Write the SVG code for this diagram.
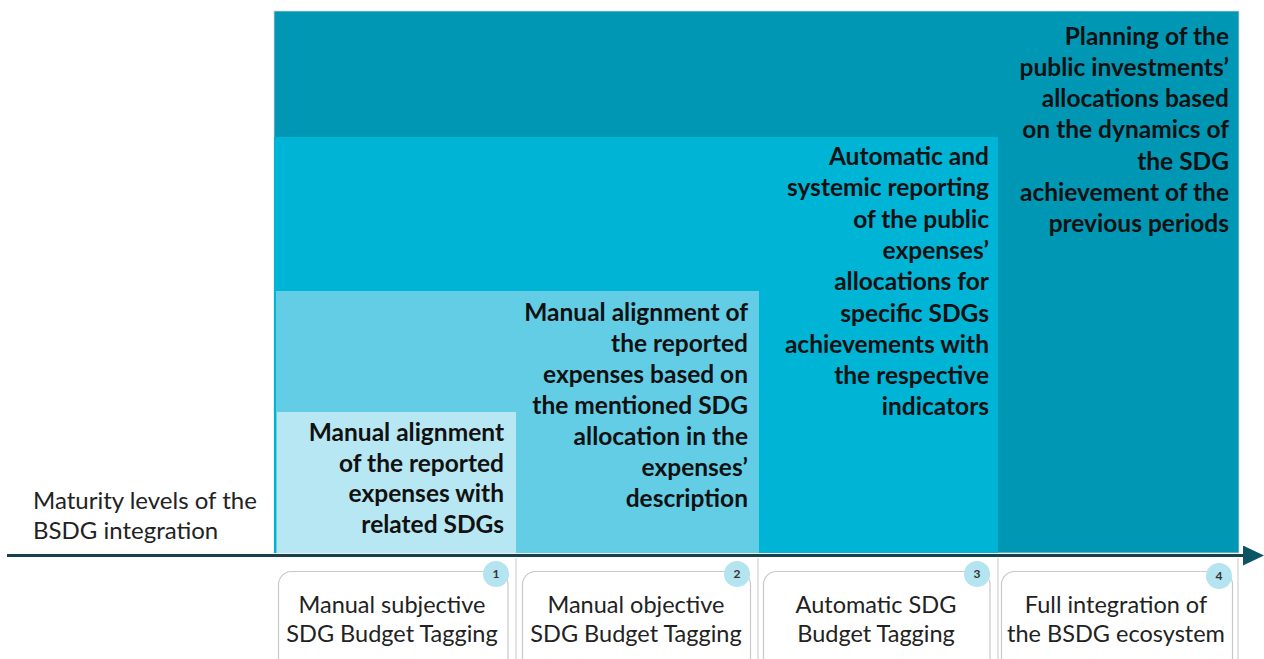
<svg xmlns="http://www.w3.org/2000/svg" width="1264" height="659" viewBox="0 0 1264 659">
<defs>
<style>
.lvl{font-family:Lato,"Open Sans","Liberation Sans",sans-serif;font-weight:700;font-size:24.5px;fill:#111;text-anchor:end}
.lab{font-family:Lato,"Open Sans","Liberation Sans",sans-serif;font-weight:400;font-size:23.5px;fill:#222;text-anchor:middle}
.axl{font-family:Lato,"Open Sans","Liberation Sans",sans-serif;font-weight:400;font-size:24px;fill:#222}
.box{fill:#fff;stroke:#c8c8c8;stroke-width:1.2}
.num{fill:#b3e4ef}
.numt{font-family:Lato,"Liberation Sans",sans-serif;font-weight:700;font-size:12px;fill:#333;text-anchor:middle}
.sep{stroke:#d0d0d0;stroke-width:1.2}
</style>
<marker id="arr" markerWidth="21" markerHeight="20" refX="0" refY="10" orient="auto" markerUnits="userSpaceOnUse" viewBox="0 0 21 20">
<path d="M0,0 L21,10 L0,20 Z" fill="#0d5566"/>
</marker>
</defs>
<rect width="1264" height="659" fill="#fff"/>
<g id="level4">
<rect x="274" y="11" width="965" height="542" fill="#0097b5" stroke="#d6d6d6" stroke-width="0.8"/>
<text class="lvl"><tspan x="1229" y="45">Planning of the</tspan><tspan x="1229" y="76">public investments’</tspan><tspan x="1229" y="107">allocations based</tspan><tspan x="1229" y="138">on the dynamics of</tspan><tspan x="1229" y="169.5">the SDG</tspan><tspan x="1229" y="200.5">achievement of the</tspan><tspan x="1229" y="231.5">previous periods</tspan></text>
</g>
<g id="level3">
<rect x="274" y="137" width="724" height="416" fill="#00b4d6"/>
<text class="lvl"><tspan x="989" y="165">Automatic and</tspan><tspan x="989" y="196">systemic reporting</tspan><tspan x="989" y="227.5">of the public</tspan><tspan x="989" y="259">expenses’</tspan><tspan x="989" y="290">allocations for</tspan><tspan x="989" y="321.5">specific SDGs</tspan><tspan x="989" y="353">achievements with</tspan><tspan x="989" y="384">the respective</tspan><tspan x="989" y="415">indicators</tspan></text>
</g>
<g id="level2">
<rect x="276" y="291" width="483" height="262" fill="#62cde5"/>
<text class="lvl"><tspan x="748" y="321">Manual alignment of</tspan><tspan x="748" y="352">the reported</tspan><tspan x="748" y="383">expenses based on</tspan><tspan x="748" y="414">the mentioned SDG</tspan><tspan x="748" y="445">allocation in the</tspan><tspan x="748" y="476">expenses’</tspan><tspan x="748" y="507">description</tspan></text>
</g>
<g id="level1">
<rect x="277" y="412" width="239" height="141" fill="#b7e7f2"/>
<text class="lvl"><tspan x="504" y="441">Manual alignment</tspan><tspan x="504" y="471.5">of the reported</tspan><tspan x="504" y="502">expenses with</tspan><tspan x="504" y="532.5">related SDGs</tspan></text>
</g>
<g id="axis-label">
<text class="axl"><tspan x="33" y="509">Maturity levels of the</tspan><tspan x="33" y="539">BSDG integration</tspan></text>
</g>
<g id="connectors">
<line x1="7" y1="555.5" x2="1243" y2="555.5" stroke="#17404c" stroke-width="3" marker-end="url(#arr)"/>
<line class="sep" x1="516" y1="558" x2="516" y2="659"/>
<line class="sep" x1="758" y1="558" x2="758" y2="659"/>
<line class="sep" x1="998" y1="558" x2="998" y2="659"/>
<line class="sep" x1="1238" y1="558" x2="1238" y2="659"/>
</g>
<g id="stage1">
<rect class="box" x="278.5" y="571.5" width="229.5" height="100" rx="13"/>
<circle class="num" cx="496" cy="574" r="13"/>
<text class="numt" x="496" y="578">1</text>
<text class="lab"><tspan x="392" y="613">Manual subjective</tspan><tspan x="392" y="642">SDG Budget Tagging</tspan></text>
</g>
<g id="stage2">
<rect class="box" x="522.5" y="571.5" width="228" height="100" rx="13"/>
<circle class="num" cx="737" cy="574" r="13"/>
<text class="numt" x="737" y="578">2</text>
<text class="lab"><tspan x="636" y="613">Manual objective</tspan><tspan x="636" y="642">SDG Budget Tagging</tspan></text>
</g>
<g id="stage3">
<rect class="box" x="763.5" y="571.5" width="226.5" height="100" rx="13"/>
<circle class="num" cx="977" cy="574" r="13"/>
<text class="numt" x="977" y="578">3</text>
<text class="lab"><tspan x="876" y="613">Automatic SDG</tspan><tspan x="876" y="642">Budget Tagging</tspan></text>
</g>
<g id="stage4">
<rect class="box" x="1001.5" y="571.5" width="231" height="100" rx="13"/>
<circle class="num" cx="1219" cy="576" r="13"/>
<text class="numt" x="1219" y="580">4</text>
<text class="lab"><tspan x="1116" y="613">Full integration of</tspan><tspan x="1116" y="642">the BSDG ecosystem</tspan></text>
</g>
</svg>
